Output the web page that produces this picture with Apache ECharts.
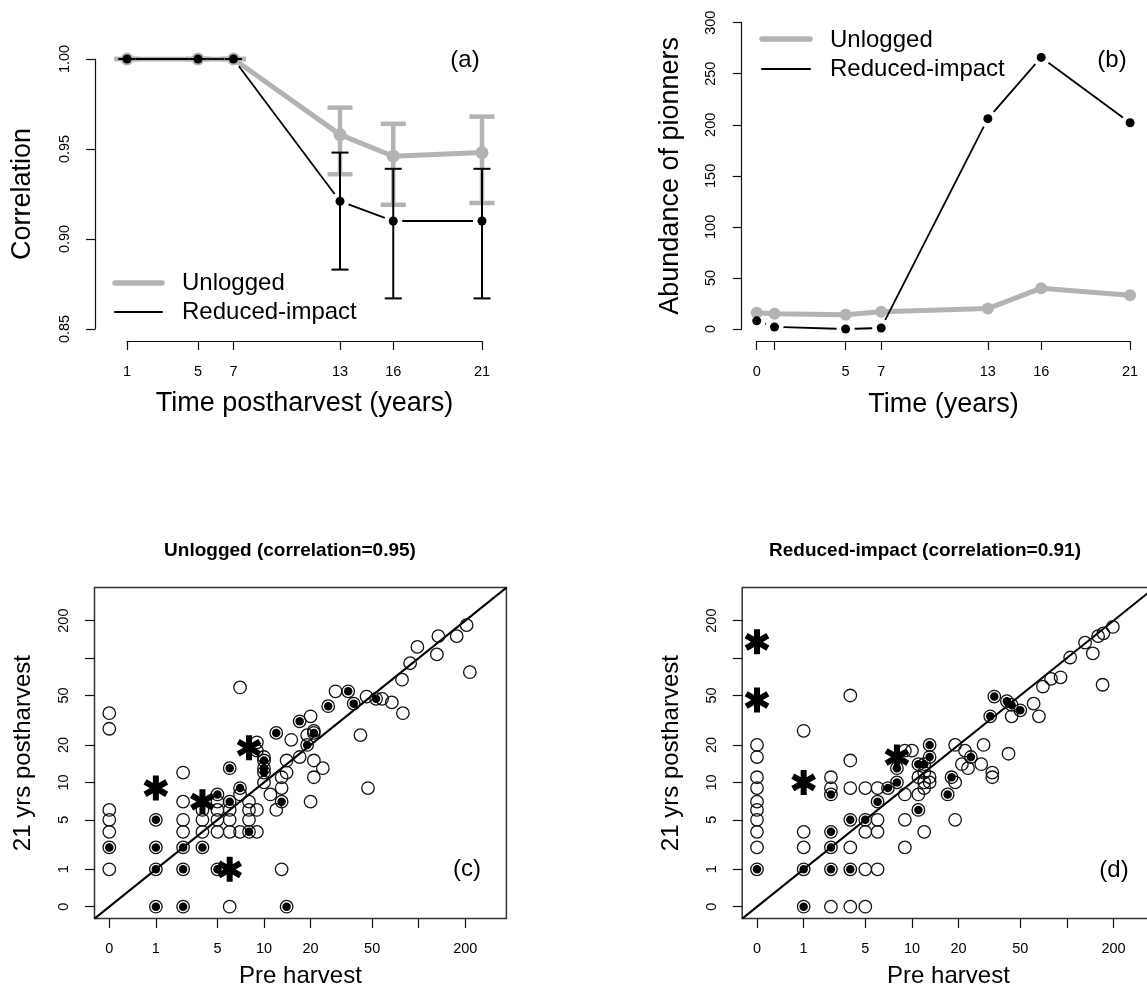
<!DOCTYPE html>
<html>
<head>
<meta charset="utf-8">
<script src="https://cdn.jsdelivr.net/npm/echarts@6/dist/echarts.min.js"></script>
<style>
  html, body { margin: 0; padding: 0; background: #fff; }
  #chart { width: 1147px; height: 998px; }
</style>
</head>
<body>
<div id="chart"></div>
<script>
const FONT = '"Liberation Sans", Arial, Helvetica, sans-serif';
const GRAY = "#b3b3b3";
const INK = "#111";

// (a) correlation over time
const yearsA = [1, 5, 7, 13, 16, 21];
const corrUnlogged = [1, 1, 1, 0.958, 0.946, 0.948];
const corrUnloggedLo = [1, 1, 1, 0.936, 0.919, 0.92];
const corrUnloggedHi = [1, 1, 1, 0.973, 0.964, 0.968];
const corrRil = [1, 1, 1, 0.921, 0.91, 0.91];
const corrRilLo = [1, 1, 1, 0.883, 0.867, 0.867];
const corrRilHi = [1, 1, 1, 0.948, 0.939, 0.939];
const ticksA = [1, 5, 7, 13, 16, 21];

// (b) pioneer abundance
const yearsB = [0, 1, 5, 7, 13, 16, 21];
const pioneersUnlogged = [16, 15, 14, 17, 20, 40, 33];
const pioneersRil = [8, 2, 0, 1, 206, 266, 202];
const ticksB = [0, 1, 5, 7, 13, 16, 21];
const labelsB = [0, 5, 7, 13, 16, 21];

// (c) unlogged: [pre harvest, 21 yrs postharvest]
const unloggedOpen = [
  [0, 1], [0, 3], [0, 4], [0, 5], [0, 26], [0, 35],
  [2, 3], [2, 4], [2, 6], [2, 11],
  [3, 3], [3, 4], [3, 5],
  [4, 3], [4, 4], [4, 5], [4, 6],
  [5, 0], [5, 3], [5, 4], [5, 5],
  [6, 3], [6, 7], [6, 57],
  [7, 4], [7, 5], [7, 6],
  [8, 3], [8, 5], [8, 17], [8, 20],
  [9, 9], [9, 15], [10, 7], [11, 5],
  [12, 1], [12, 8], [12, 10], [13, 11], [13, 14], [14, 21], [16, 15],
  [18, 23], [19, 6], [19, 33], [20, 10], [20, 14], [20, 25], [23, 12],
  [28, 53], [41, 23], [45, 48], [46, 8], [57, 46], [66, 43], [77, 66],
  [78, 35], [87, 90], [97, 122], [130, 106], [133, 149], [175, 149],
  [203, 183], [213, 76],
];
const unloggedFilled = [
  [0, 2], [1, 0], [1, 1], [1, 2], [1, 4], [2, 0], [2, 1], [2, 2], [3, 2],
  [4, 1], [4, 7], [5, 6], [5, 12], [6, 8], [7, 3], [9, 11], [9, 12], [9, 14],
  [11, 24], [12, 6], [13, 0], [16, 30], [18, 19], [20, 24], [25, 40],
  [34, 53], [37, 42], [52, 46],
];
const unloggedStars = [[1, 8], [3, 6], [5, 1], [7, 18]];

// (d) reduced-impact
const rilOpen = [
  [0, 2], [0, 3], [0, 4], [0, 5], [0, 6], [0, 8], [0, 10], [0, 15], [0, 19],
  [1, 2], [1, 3], [1, 25],
  [2, 0], [2, 8], [2, 10],
  [3, 0], [3, 2], [3, 8], [3, 14], [3, 49],
  [4, 0], [4, 1], [4, 3], [4, 8],
  [5, 1], [5, 3], [5, 4], [5, 8],
  [8, 2], [8, 4], [8, 7], [8, 17], [9, 17],
  [10, 7], [10, 10], [11, 3], [11, 8], [11, 9], [11, 11], [12, 9], [12, 10],
  [18, 4], [18, 9], [18, 19], [20, 13], [21, 17], [22, 12], [27, 13],
  [28, 19], [32, 10], [32, 11], [41, 16], [43, 33], [60, 42], [65, 33],
  [69, 58], [78, 67], [90, 69], [104, 100], [130, 132], [146, 108],
  [158, 149], [171, 157], [197, 177], [169, 60],
];
const rilFilled = [
  [0, 1], [1, 0], [1, 1], [2, 1], [2, 2], [2, 3], [2, 7], [3, 1], [3, 4],
  [4, 4], [5, 6], [6, 8], [7, 9], [7, 12], [10, 5], [10, 13], [11, 13],
  [12, 15], [12, 19], [16, 7], [17, 10], [23, 15], [31, 33], [33, 48],
  [40, 44], [43, 41], [49, 37],
];
const rilStars = [[0, 134], [0, 45], [1, 9], [7, 15]];

// scatter axes: log(count + 1), ticks drawn at log(raw)
const scatterTickRaw = [1, 2, 5, 10, 20, 50, 100, 200];
const scatterTickLabels = ["0", "1", "5", "10", "20", "50", "", "200"];
const LOG_MIN = -0.22;
const LOG_MAX = 5.91;

const toLog = (v) => Math.log(v + 1);
const logPts = (arr) => arr.map(([x, y]) => [toLog(x), toLog(y)]);
const zip = (...cols) => cols[0].map((_v, i) => cols.map((c) => c[i]));
const segments = (xs, ys) =>
  xs.slice(0, -1).map((x, i) => [x, ys[i], xs[i + 1], ys[i + 1]]);

const scatterTickPos = scatterTickRaw.map((v) => Math.log(v));
const scatterLabelPos = scatterTickPos.filter((_p, i) => scatterTickLabels[i] !== "");
function scatterLabel(v) {
  const i = scatterTickPos.findIndex((p) => Math.abs(p - v) < 1e-6);
  return i >= 0 ? scatterTickLabels[i] : "";
}

function asteriskPath(L, w) {
  let d = "";
  [90, 30, 150].forEach((deg) => {
    const a = (deg * Math.PI) / 180;
    const ux = Math.cos(a), uy = Math.sin(a);
    const nx = -uy, ny = ux;
    const pts = [
      [L * ux + w * nx, L * uy + w * ny],
      [L * ux - w * nx, L * uy - w * ny],
      [-L * ux - w * nx, -L * uy - w * ny],
      [-L * ux + w * nx, -L * uy + w * ny],
    ];
    d += "M" + pts.map((p) => p[0].toFixed(2) + "," + p[1].toFixed(2)).join("L") + "Z";
  });
  return "path://" + d;
}
const STAR = asteriskPath(10, 2.4);

//誤差線
function errorBarItem(capHalf, color, width) {
  return function (params, api) {
    const x = api.value(0);
    const lo = api.coord([x, api.value(1)]);
    const hi = api.coord([x, api.value(2)]);
    const style = { stroke: color, lineWidth: width };
    return {
      type: "group",
      children: [
        { type: "line", shape: { x1: lo[0], y1: lo[1], x2: hi[0], y2: hi[1] }, style },
        { type: "line", shape: { x1: lo[0] - capHalf, y1: lo[1], x2: lo[0] + capHalf, y2: lo[1] }, style },
        { type: "line", shape: { x1: hi[0] - capHalf, y1: hi[1], x2: hi[0] + capHalf, y2: hi[1] }, style },
      ],
    };
  };
}
// line pieces that stop short of the points (R type="b")
function gapLineItem(gap, color, width) {
  return function (params, api) {
    const p0 = api.coord([api.value(0), api.value(1)]);
    const p1 = api.coord([api.value(2), api.value(3)]);
    const dx = p1[0] - p0[0], dy = p1[1] - p0[1];
    const len = Math.hypot(dx, dy);
    if (len <= 2 * gap) return { type: "group", children: [] };
    const ux = dx / len, uy = dy / len;
    return {
      type: "line",
      shape: { x1: p0[0] + ux * gap, y1: p0[1] + uy * gap, x2: p1[0] - ux * gap, y2: p1[1] - uy * gap },
      style: { stroke: color, lineWidth: width },
    };
  };
}

const axisLineStyle = { color: INK, width: 1.2 };
const tickLabel = { color: "#000", fontFamily: FONT, fontSize: 14.5 };

function topXAxis(gridIndex, min, max, ticks, labels, name) {
  return {
    gridIndex, type: "value", min, max, offset: 12,
    axisLine: { show: true, onZero: false, lineStyle: axisLineStyle },
    axisTick: { customValues: ticks, length: 9, lineStyle: axisLineStyle },
    axisLabel: { customValues: labels, margin: 23, ...tickLabel },
    splitLine: { show: false },
    name, nameLocation: "middle", nameGap: 49,
    nameTextStyle: { color: "#000", fontFamily: FONT, fontSize: 27 },
  };
}
function scatterAxis(gridIndex, name, isY) {
  return {
    gridIndex, type: "value", min: LOG_MIN, max: LOG_MAX,
    axisLine: { show: false, onZero: false },
    axisTick: { customValues: scatterTickPos, length: 9.5, lineStyle: axisLineStyle },
    axisLabel: {
      customValues: scatterLabelPos, formatter: scatterLabel,
      margin: 23, rotate: isY ? 90 : 0, ...tickLabel,
    },
    splitLine: { show: false },
    name, nameLocation: "middle", nameGap: isY ? 59 : 46,
    nameTextStyle: { color: "#000", fontFamily: FONT, fontSize: 24 },
  };
}

function scatterSeries(idx, open, filled, stars) {
  const ring = {
    type: "scatter", xAxisIndex: idx, yAxisIndex: idx, symbol: "circle", symbolSize: 12.5,
    itemStyle: { color: "transparent", borderColor: INK, borderWidth: 1.3, opacity: 1 }, z: 3,
  };
  return [
    {
      type: "line", xAxisIndex: idx, yAxisIndex: idx, symbol: "none",
      data: [[LOG_MIN, LOG_MIN], [LOG_MAX, LOG_MAX]],
      lineStyle: { color: "#000", width: 2 }, z: 2,
    },
    { ...ring, data: logPts(open) },
    { ...ring, data: logPts(filled) },
    {
      type: "scatter", xAxisIndex: idx, yAxisIndex: idx, symbol: "circle", symbolSize: 8.5,
      itemStyle: { color: "#000", opacity: 1 }, data: logPts(filled), z: 4,
    },
    {
      type: "scatter", xAxisIndex: idx, yAxisIndex: idx, symbol: STAR, symbolSize: 25,
      symbolKeepAspect: true, itemStyle: { color: "#000", opacity: 1 }, data: logPts(stars), z: 5,
    },
  ];
}

const txt = (x, y, text, size, extra) => ({
  type: "text", x, y,
  style: { text, fill: "#000", font: `${size}px ${FONT}`, textVerticalAlign: "middle", ...(extra || {}) },
});
const seg = (x1, y1, x2, y2, color, width) => ({
  type: "line", shape: { x1, y1, x2, y2 },
  style: { stroke: color, lineWidth: width, lineCap: "round" },
});

const chart = echarts.init(document.getElementById("chart"), null, { renderer: "canvas" });
chart.setOption({
  animation: false,
  backgroundColor: "#fff",
  title: [
    {
      text: "Unlogged (correlation=0.95)", left: 285, top: 536, textAlign: "center",
      textStyle: { fontFamily: FONT, fontWeight: "bold", fontSize: 19, color: "#000" },
    },
    {
      text: "Reduced-impact (correlation=0.91)", left: 920, top: 536, textAlign: "center",
      textStyle: { fontFamily: FONT, fontWeight: "bold", fontSize: 19, color: "#000" },
    },
  ],
  grid: [
    { left: 127, top: 59, width: 355, height: 270, containLabel: false, outerBoundsMode: "none" },
    { left: 756.7, top: 22.7, width: 373.4, height: 306.3, containLabel: false, outerBoundsMode: "none" },
    {
      left: 94.5, top: 587.6, width: 411.9, height: 331, containLabel: false, outerBoundsMode: "none",
      show: true, borderColor: "#333", borderWidth: 1.5,
    },
    {
      left: 742.2, top: 587.6, width: 412.5, height: 331, containLabel: false, outerBoundsMode: "none",
      show: true, borderColor: "#333", borderWidth: 1.5,
    },
  ],
  xAxis: [
    topXAxis(0, 1, 21, ticksA, ticksA, "Time postharvest (years)"),
    { ...topXAxis(1, 0, 21, ticksB, labelsB, "Time (years)"), nameGap: 50 },
    scatterAxis(2, "Pre harvest", false),
    scatterAxis(3, "Pre harvest", false),
  ],
  yAxis: [
    {
      gridIndex: 0, type: "value", min: 0.85, max: 1.0, interval: 0.05, offset: 32,
      axisLine: { show: true, onZero: false, lineStyle: axisLineStyle },
      axisTick: { length: 9, lineStyle: axisLineStyle },
      axisLabel: { margin: 23, rotate: 90, formatter: (v) => v.toFixed(2), ...tickLabel },
      splitLine: { show: false },
      name: "Correlation", nameLocation: "middle", nameGap: 59,
      nameTextStyle: { color: "#000", fontFamily: FONT, fontSize: 27 },
    },
    {
      gridIndex: 1, type: "value", min: 0, max: 300, interval: 50, offset: 15,
      axisLine: { show: true, onZero: false, lineStyle: axisLineStyle },
      axisTick: { length: 9, lineStyle: axisLineStyle },
      axisLabel: { margin: 23, rotate: 90, ...tickLabel },
      splitLine: { show: false },
      name: "Abundance of pionners", nameLocation: "middle", nameGap: 58,
      nameTextStyle: { color: "#000", fontFamily: FONT, fontSize: 27 },
    },
    scatterAxis(2, "21 yrs postharvest", true),
    scatterAxis(3, "21 yrs postharvest", true),
  ],
  series: [
    // (a)
    {
      name: "Unlogged", type: "line", xAxisIndex: 0, yAxisIndex: 0,
      data: zip(yearsA, corrUnlogged), symbol: "circle", symbolSize: 13,
      itemStyle: { color: GRAY, opacity: 1 }, lineStyle: { color: GRAY, width: 5, cap: "round", join: "round" }, z: 2,
    },
    {
      type: "custom", xAxisIndex: 0, yAxisIndex: 0, z: 3,
      data: zip(yearsA, corrUnloggedLo, corrUnloggedHi),
      renderItem: errorBarItem(12.5, GRAY, 4.5),
    },
    {
      name: "Reduced-impact", type: "custom", xAxisIndex: 0, yAxisIndex: 0, z: 4,
      data: segments(yearsA, corrRil), renderItem: gapLineItem(9, "#000", 1.8),
    },
    {
      type: "custom", xAxisIndex: 0, yAxisIndex: 0, z: 5,
      data: zip(yearsA, corrRilLo, corrRilHi), renderItem: errorBarItem(8.5, "#000", 2),
    },
    {
      type: "scatter", xAxisIndex: 0, yAxisIndex: 0, z: 6, symbolSize: 9,
      itemStyle: { color: "#000", opacity: 1 }, data: zip(yearsA, corrRil),
    },
    // (b)
    {
      name: "Unlogged", type: "line", xAxisIndex: 1, yAxisIndex: 1,
      data: zip(yearsB, pioneersUnlogged), symbol: "circle", symbolSize: 12,
      itemStyle: { color: GRAY, opacity: 1 }, lineStyle: { color: GRAY, width: 5, cap: "round", join: "round" }, z: 2,
    },
    {
      name: "Reduced-impact", type: "custom", xAxisIndex: 1, yAxisIndex: 1, z: 4,
      data: segments(yearsB, pioneersRil), renderItem: gapLineItem(9, "#000", 1.8),
    },
    {
      type: "scatter", xAxisIndex: 1, yAxisIndex: 1, z: 6, symbolSize: 9,
      itemStyle: { color: "#000", opacity: 1 }, data: zip(yearsB, pioneersRil),
    },
    // (c) and (d)
    ...scatterSeries(2, unloggedOpen, unloggedFilled, unloggedStars),
    ...scatterSeries(3, rilOpen, rilFilled, rilStars),
  ],
  graphic: [
    seg(115, 283, 162, 283, GRAY, 5.5),
    seg(115, 312, 162, 312, "#000", 2),
    txt(182, 283, "Unlogged", 24),
    txt(182, 312, "Reduced-impact", 24),
    seg(762, 39, 810, 39, GRAY, 5.5),
    seg(762, 69, 810, 69, "#000", 2),
    txt(830, 40, "Unlogged", 24),
    txt(830, 69, "Reduced-impact", 24),
    txt(465, 60, "(a)", 24, { textAlign: "center" }),
    txt(1112, 60, "(b)", 24, { textAlign: "center" }),
    txt(467, 869, "(c)", 24, { textAlign: "center" }),
    txt(1114, 870, "(d)", 24, { textAlign: "center" }),
  ],
});
</script>
</body>
</html>
